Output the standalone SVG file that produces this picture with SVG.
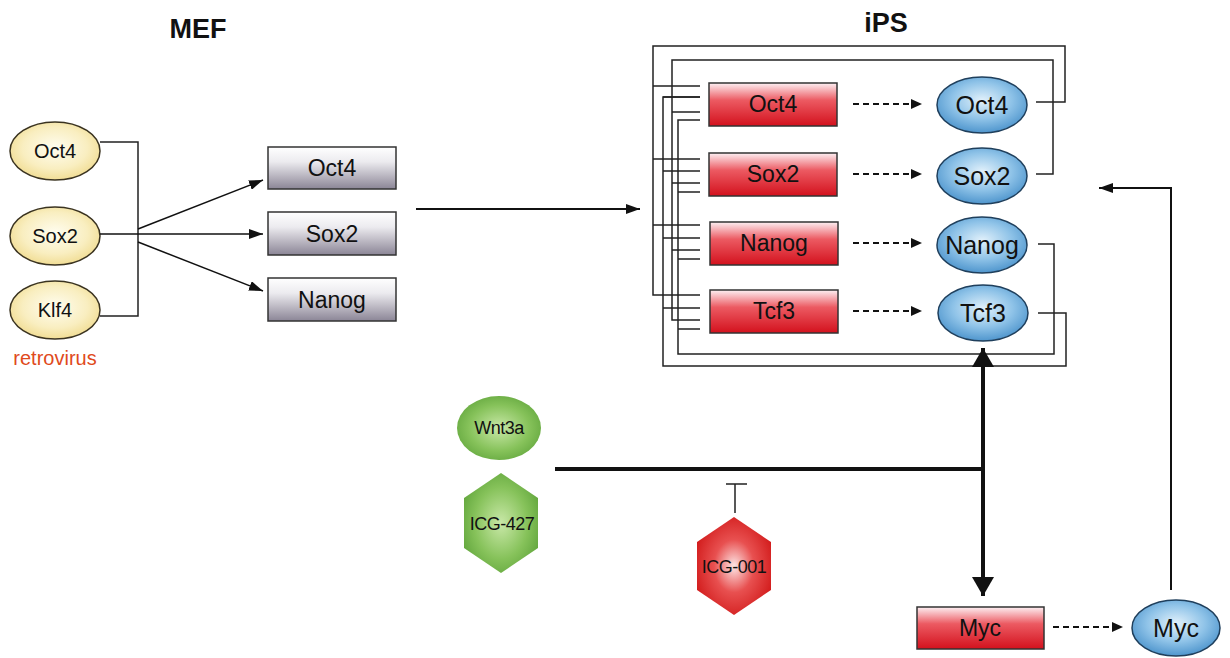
<svg xmlns="http://www.w3.org/2000/svg" width="1230" height="658" viewBox="0 0 1230 658">
  <defs>
    <linearGradient id="gGrey" x1="0" y1="0" x2="0" y2="1">
      <stop offset="0" stop-color="#ffffff"/>
      <stop offset="0.35" stop-color="#ecebef"/>
      <stop offset="1" stop-color="#8b8596"/>
    </linearGradient>
    <linearGradient id="gRed" x1="0" y1="0" x2="0" y2="1">
      <stop offset="0" stop-color="#fdf0f3"/>
      <stop offset="0.4" stop-color="#ec5a62"/>
      <stop offset="1" stop-color="#d3111d"/>
    </linearGradient>
    <radialGradient id="gBlue" cx="0.5" cy="0.42" r="0.6">
      <stop offset="0" stop-color="#e2f1fb"/>
      <stop offset="0.55" stop-color="#8fc3e8"/>
      <stop offset="1" stop-color="#4a92cb"/>
    </radialGradient>
    <radialGradient id="gYellow" cx="0.5" cy="0.45" r="0.6">
      <stop offset="0" stop-color="#fffdf0"/>
      <stop offset="0.6" stop-color="#f9eec0"/>
      <stop offset="1" stop-color="#efd98a"/>
    </radialGradient>
    <radialGradient id="gGreen" cx="0.5" cy="0.5" r="0.6">
      <stop offset="0" stop-color="#c9e8a8"/>
      <stop offset="0.6" stop-color="#86c25a"/>
      <stop offset="1" stop-color="#5ea33a"/>
    </radialGradient>
    <radialGradient id="gRedHex" cx="0.5" cy="0.5" r="0.6">
      <stop offset="0" stop-color="#fde6e6"/>
      <stop offset="0.45" stop-color="#e85050"/>
      <stop offset="1" stop-color="#cf1414"/>
    </radialGradient>
    <marker id="arr" viewBox="0 0 14 10" refX="14" refY="5" markerWidth="14" markerHeight="10" markerUnits="userSpaceOnUse" orient="auto">
      <path d="M0 0 L14 5 L0 10 z" fill="#111"/>
    </marker>
    <marker id="arrSm" viewBox="0 0 11 10" refX="11" refY="5" markerWidth="11" markerHeight="10" markerUnits="userSpaceOnUse" orient="auto">
      <path d="M0 0 L11 5 L0 10 z" fill="#111"/>
    </marker>
    <marker id="arrBig" viewBox="0 0 19 22" refX="19" refY="11" markerWidth="19" markerHeight="22" markerUnits="userSpaceOnUse" orient="auto-start-reverse">
      <path d="M0 0 L19 11 L0 22 z" fill="#111"/>
    </marker>
  </defs>
  <style>
    text { font-family: "Liberation Sans", Arial, sans-serif; fill: #111; text-anchor: middle; }
    .title { font-size: 27px; font-weight: bold; }
    .lbl { font-size: 23px; }
    .prot { font-size: 25px; }
    .retro { font-size: 20px; }
    .drug { font-size: 18px; letter-spacing: -0.5px; }
    .note { font-size: 20px; fill: #e04a1c; }
    .grey { fill: url(#gGrey); stroke: #333; stroke-width: 1.5; }
    .red { fill: url(#gRed); stroke: #333; stroke-width: 1.5; }
    .blue { fill: url(#gBlue); stroke: #1f3f5c; stroke-width: 1.5; }
    .yellow { fill: url(#gYellow); stroke: #3a3320; stroke-width: 1.5; }
    .green { fill: url(#gGreen); }
    .redhex { fill: url(#gRedHex); }
    .thin { fill: none; stroke: #222; stroke-width: 1.5; }
    .arrow { fill: none; stroke: #111; stroke-width: 2; }
    .dash { fill: none; stroke: #111; stroke-width: 2; stroke-dasharray: 6 4; }
    .thick { fill: none; stroke: #111; stroke-width: 4; }
  </style>
  <rect width="1230" height="658" fill="#ffffff"/>

  <!-- Section headings -->
  <text class="title" x="198" y="38">MEF</text>
  <text class="title" x="886" y="32">iPS</text>

  <!-- Retroviral factors -->
  <g id="retro-oct4">
    <ellipse class="yellow" cx="55" cy="151" rx="45" ry="29"/>
    <text class="retro" x="55" y="158">Oct4</text>
  </g>
  <g id="retro-sox2">
    <ellipse class="yellow" cx="55" cy="236" rx="45" ry="29"/>
    <text class="retro" x="55" y="243">Sox2</text>
  </g>
  <g id="retro-klf4">
    <ellipse class="yellow" cx="55" cy="310" rx="45" ry="29"/>
    <text class="retro" x="55" y="317">Klf4</text>
  </g>
  <text class="note" x="55" y="365">retrovirus</text>

  <!-- MEF endogenous genes -->
  <g id="mef-oct4">
    <rect class="grey" x="268" y="147" width="128" height="42"/>
    <text class="lbl" x="332" y="176">Oct4</text>
  </g>
  <g id="mef-sox2">
    <rect class="grey" x="268" y="212" width="128" height="43"/>
    <text class="lbl" x="332" y="242">Sox2</text>
  </g>
  <g id="mef-nanog">
    <rect class="grey" x="268" y="278" width="128" height="43"/>
    <text class="lbl" x="332" y="308">Nanog</text>
  </g>

  <!-- iPS genes -->
  <g id="gene-oct4">
    <rect class="red" x="709" y="83" width="128" height="43"/>
    <text class="lbl" x="773" y="112">Oct4</text>
  </g>
  <g id="gene-sox2">
    <rect class="red" x="709" y="153" width="128" height="43"/>
    <text class="lbl" x="773" y="182">Sox2</text>
  </g>
  <g id="gene-nanog">
    <rect class="red" x="710" y="222" width="128" height="43"/>
    <text class="lbl" x="774" y="251">Nanog</text>
  </g>
  <g id="gene-tcf3">
    <rect class="red" x="710" y="290" width="128" height="43"/>
    <text class="lbl" x="774" y="319">Tcf3</text>
  </g>

  <!-- iPS proteins -->
  <g id="prot-oct4">
    <ellipse class="blue" cx="982" cy="105" rx="45" ry="28"/>
    <text class="prot" x="982" y="114">Oct4</text>
  </g>
  <g id="prot-sox2">
    <ellipse class="blue" cx="982" cy="176" rx="45" ry="28"/>
    <text class="prot" x="982" y="185">Sox2</text>
  </g>
  <g id="prot-nanog">
    <ellipse class="blue" cx="982" cy="245" rx="45" ry="28"/>
    <text class="prot" x="982" y="254">Nanog</text>
  </g>
  <g id="prot-tcf3">
    <ellipse class="blue" cx="983" cy="313" rx="45" ry="28"/>
    <text class="prot" x="983" y="322">Tcf3</text>
  </g>

  <!-- Wnt pathway and compounds -->
  <g id="wnt3a">
    <ellipse class="green" cx="499" cy="428" rx="42" ry="32"/>
    <text class="drug" x="499" y="434">Wnt3a</text>
  </g>
  <g id="icg427">
    <polygon class="green" points="501,473 538,498 538,548 501,573 464,548 464,498"/>
    <text class="drug" x="502" y="530">ICG-427</text>
  </g>
  <g id="icg001">
    <polygon class="redhex" points="734,517 771,542 771,590 734,615 697,590 697,542"/>
    <text class="drug" x="734" y="573">ICG-001</text>
  </g>

  <!-- Myc -->
  <g id="gene-myc">
    <rect class="red" x="917" y="607" width="127" height="42"/>
    <text class="lbl" x="980" y="636">Myc</text>
  </g>
  <g id="prot-myc">
    <ellipse class="blue" cx="1176" cy="628" rx="44" ry="28"/>
    <text class="prot" x="1176" y="637">Myc</text>
  </g>

  <g id="connectors">
    <!-- retroviral input -->
    <path class="thin" d="M100 142 H138 V316 H100"/>
    <path class="arrow" style="stroke-width:1.5" d="M100 234 H263" marker-end="url(#arr)"/>
    <path class="arrow" style="stroke-width:1.5" d="M138 229 L263 180" marker-end="url(#arr)"/>
    <path class="arrow" style="stroke-width:1.5" d="M138 242 L263 291" marker-end="url(#arr)"/>
    <!-- reprogramming -->
    <path class="arrow" d="M416 209 H640" marker-end="url(#arr)"/>

    <!-- autoregulatory loops: each protein feeds back to all four genes -->
    <path class="thin" d="M1036 102 H1065 V46 H653 V295 H700"/>
    <path class="thin" d="M1036 174 H1053 V60 H672 V320 H700"/>
    <path class="thin" d="M1038 244 H1054 V354 H678 V120 H700"/>
    <path class="thin" d="M1038 313 H1066 V366 H663 V97 H700"/>
    <path class="thin" d="M653 86 H700 M663 97 H700 M672 112 H700
                          M653 159 H700 M663 171 H700 M672 183 H700 M678 192 H700
                          M653 225 H700 M663 238 H700 M672 250 H700 M678 259 H700
                          M663 308 H700 M678 329 H700"/>

    <!-- translation -->
    <path class="dash" d="M853 104 H922" marker-end="url(#arrSm)"/>
    <path class="dash" d="M853 174 H922" marker-end="url(#arrSm)"/>
    <path class="dash" d="M853 243 H922" marker-end="url(#arrSm)"/>
    <path class="dash" d="M853 311 H922" marker-end="url(#arrSm)"/>
    <path class="dash" d="M1053 627 H1123" marker-end="url(#arrSm)"/>

    <!-- Wnt signalling to Tcf3 and Myc -->
    <path class="thick" d="M555 469 H983"/>
    <path class="thick" d="M983 348 V596" marker-start="url(#arrBig)" marker-end="url(#arrBig)"/>
    <!-- ICG-001 inhibition -->
    <path class="thin" d="M735 513 V484 M726 484 H747"/>
    <!-- Myc feedback -->
    <path class="arrow" d="M1171 590 V188 H1099" marker-end="url(#arr)"/>
  </g>
</svg>
